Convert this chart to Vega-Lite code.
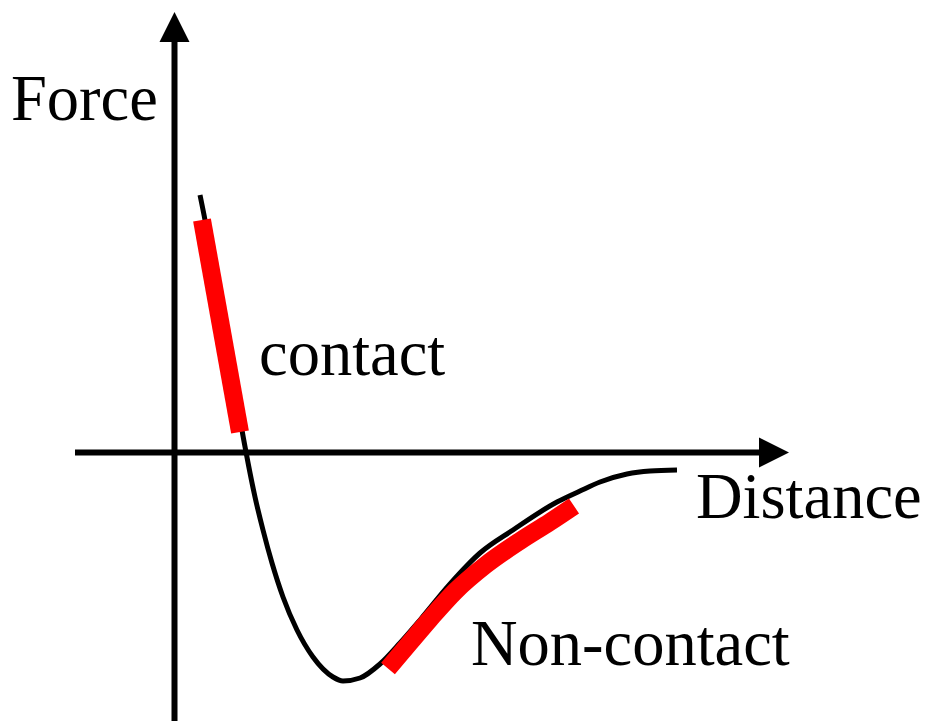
{
  "$schema": "https://vega.github.io/schema/vega-lite/v6.json",
  "width": 925,
  "height": 721,
  "autosize": {"type": "none"},
  "padding": 0,
  "background": "white",
  "config": {"view": {"stroke": null}},
  "datasets": {
    "axes": [
      {"axis": "distance", "x": -0.995, "y": 0, "x2": 5.86, "y2": 0},
      {"axis": "force", "x": 0, "y": -2.7, "x2": 0, "y2": 4.12}
    ],
    "curve": [
      {"x": 0.255, "y": 2.575},
      {"x": 0.305, "y": 2.325},
      {"x": 0.375, "y": 1.925},
      {"x": 0.455, "y": 1.505},
      {"x": 0.535, "y": 1.075},
      {"x": 0.615, "y": 0.625},
      {"x": 0.675, "y": 0.225},
      {"x": 0.715, "y": 0.005},
      {"x": 0.805, "y": -0.445},
      {"x": 0.885, "y": -0.775},
      {"x": 0.975, "y": -1.105},
      {"x": 1.085, "y": -1.445},
      {"x": 1.225, "y": -1.775},
      {"x": 1.385, "y": -2.045},
      {"x": 1.585, "y": -2.245},
      {"x": 1.685, "y": -2.285},
      {"x": 1.855, "y": -2.255},
      {"x": 2.055, "y": -2.115},
      {"x": 2.255, "y": -1.905},
      {"x": 2.455, "y": -1.675},
      {"x": 2.755, "y": -1.315},
      {"x": 3.055, "y": -1.005},
      {"x": 3.385, "y": -0.775},
      {"x": 3.825, "y": -0.495},
      {"x": 4.055, "y": -0.385},
      {"x": 4.255, "y": -0.295},
      {"x": 4.525, "y": -0.215},
      {"x": 4.755, "y": -0.185},
      {"x": 5.025, "y": -0.175}
    ],
    "regimes": [
      {"regime": "contact", "x": 0.275, "y": 2.325},
      {"regime": "contact", "x": 0.655, "y": 0.205},
      {"regime": "non-contact", "x": 2.135, "y": -2.16},
      {"regime": "non-contact", "x": 2.355, "y": -1.9},
      {"regime": "non-contact", "x": 2.555, "y": -1.665},
      {"regime": "non-contact", "x": 2.805, "y": -1.39},
      {"regime": "non-contact", "x": 3.105, "y": -1.13},
      {"regime": "non-contact", "x": 3.455, "y": -0.885},
      {"regime": "non-contact", "x": 3.755, "y": -0.695},
      {"regime": "non-contact", "x": 3.995, "y": -0.535}
    ],
    "arrowUp": [{"x": 0, "y": 4.255}],
    "arrowRight": [{"x": 5.995, "y": 0}],
    "labels": [
      {"label": "Force", "x": -1.635, "y": 3.325},
      {"label": "contact", "x": 0.845, "y": 0.775},
      {"label": "Distance", "x": 5.215, "y": -0.655},
      {"label": "Non-contact", "x": 2.965, "y": -2.125}
    ]
  },
  "encoding": {
    "x": {"field": "x", "type": "quantitative", "scale": {"domain": [-1.745, 7.505], "nice": false, "zero": false}, "axis": null},
    "y": {"field": "y", "type": "quantitative", "scale": {"domain": [-2.685, 4.525], "nice": false, "zero": false}, "axis": null}
  },
  "layer": [
    {
      "data": {"name": "axes"},
      "mark": {"type": "rule", "color": "black", "strokeWidth": 6, "strokeCap": "butt"},
      "encoding": {
        "x2": {"field": "x2"},
        "y2": {"field": "y2"}
      }
    },
    {
      "data": {"name": "curve"},
      "mark": {"type": "line", "color": "black", "strokeWidth": 5, "interpolate": "monotone", "strokeCap": "butt"}
    },
    {
      "data": {"name": "regimes"},
      "mark": {"type": "line", "color": "#ff0000", "strokeWidth": 18, "interpolate": "monotone", "strokeCap": "butt"},
      "encoding": {"detail": {"field": "regime"}}
    },
    {
      "data": {"name": "arrowUp"},
      "mark": {"type": "point", "shape": "M0,-1L1,1L-1,1Z", "size": 900, "filled": true, "color": "black", "opacity": 1, "strokeWidth": 0}
    },
    {
      "data": {"name": "arrowRight"},
      "mark": {"type": "point", "shape": "M1,0L-1,-1L-1,1Z", "size": 900, "filled": true, "color": "black", "opacity": 1, "strokeWidth": 0}
    },
    {
      "data": {"name": "labels"},
      "mark": {"type": "text", "font": "Liberation Serif", "fontSize": 64.5, "align": "left", "baseline": "alphabetic", "color": "black"},
      "encoding": {"text": {"field": "label"}}
    }
  ]
}
